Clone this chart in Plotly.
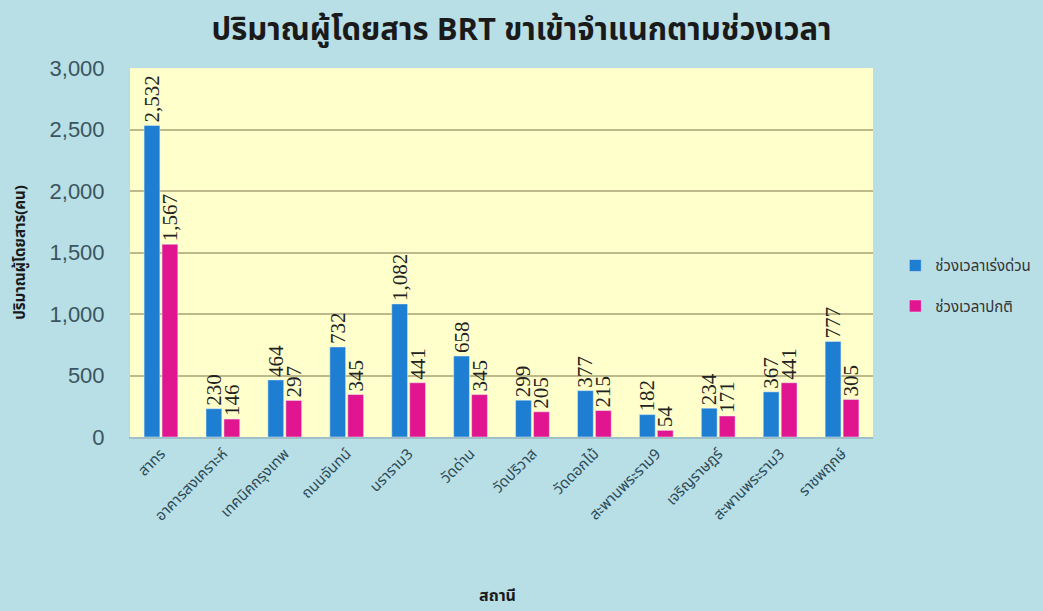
import plotly.graph_objects as go

stations = ["สาทร", "อาคารสงเคราะห์", "เทคนิคกรุงเทพ", "ถนนจันทน์", "นราราม3",
            "วัดด่าน", "วัดปริวาส", "วัดดอกไม้", "สะพานพระราม9", "เจริญราษฎร์",
            "สะพานพระราม3", "ราชพฤกษ์"]
rush_hour = [2532, 230, 464, 732, 1082, 658, 299, 377, 182, 234, 367, 777]
normal_hour = [1567, 146, 297, 345, 441, 345, 205, 215, 54, 171, 441, 305]
series_names = ["ช่วงเวลาเร่งด่วน", "ช่วงเวลาปกติ"]
y_ticks = [0, 500, 1000, 1500, 2000, 2500, 3000]

thai_font = "Noto Sans Thai, Loma, Garuda, Tlwg Typo, Norasi, sans-serif"
label_font = dict(family="Liberation Serif, Times New Roman, serif", size=21, color="#222")

fig = go.Figure()
for i, (name, vals, color) in enumerate([(series_names[0], rush_hour, "#1E7FD2"),
                                         (series_names[1], normal_hour, "#E0158F")]):
    fig.add_trace(go.Bar(
        x=stations, y=vals, name=name, marker_color=color, legendgroup=f"g{i}",
        text=[f"{v:,}" for v in vals], textposition="outside",
        textangle=-90, textfont=label_font, constraintext="none", cliponaxis=False,
    ))

fig.update_layout(
    width=1043, height=611,
    paper_bgcolor="#B8DEE6", plot_bgcolor="#FFFFCC",
    margin=dict(l=130, r=170, t=68, b=174, autoexpand=False),
    barmode="group", bargap=0.42, bargroupgap=0.12,
    title=dict(text="<b>ปริมาณผู้โดยสาร BRT ขาเข้าจำแนกตามช่วงเวลา</b>",
               x=0.5, xanchor="center", y=0.952, yanchor="middle",
               font=dict(family=thai_font, size=31, color="#1a1a1a")),
    legend=dict(x=1.03, y=0.41, xanchor="left", yanchor="middle",
                bgcolor="rgba(0,0,0,0)", tracegroupgap=18,
                font=dict(family=thai_font, size=15, color="#333")),
    font=dict(family=thai_font),
    annotations=[dict(text="<b>สถานี</b>", xref="paper", yref="paper",
                      x=0.494, y=-0.43, xanchor="center", yanchor="middle",
                      showarrow=False,
                      font=dict(family=thai_font, size=16, color="#1a1a1a"))],
)
fig.update_yaxes(
    range=[0, 3000], tickvals=y_ticks, tickformat=",",
    gridcolor="#BDB98A", gridwidth=2, zeroline=False, automargin=False,
    tickfont=dict(family="Liberation Sans, Arial, sans-serif", size=22, color="#3a5560"),
    ticks="outside", ticklen=20, tickcolor="rgba(0,0,0,0)",
    title=dict(text="<b>ปริมาณผู้โดยสาร(คน)</b>", standoff=20,
               font=dict(family=thai_font, size=15, color="#1a1a1a")),
    showline=True, linecolor="#c8d8c8",
)
fig.update_xaxes(
    tickangle=-45, tickfont=dict(family=thai_font, size=15, color="#2b4a55"),
    showline=True, linecolor="#9fc0c8", linewidth=2, automargin=False,
)

fig.write_html("out.html")
